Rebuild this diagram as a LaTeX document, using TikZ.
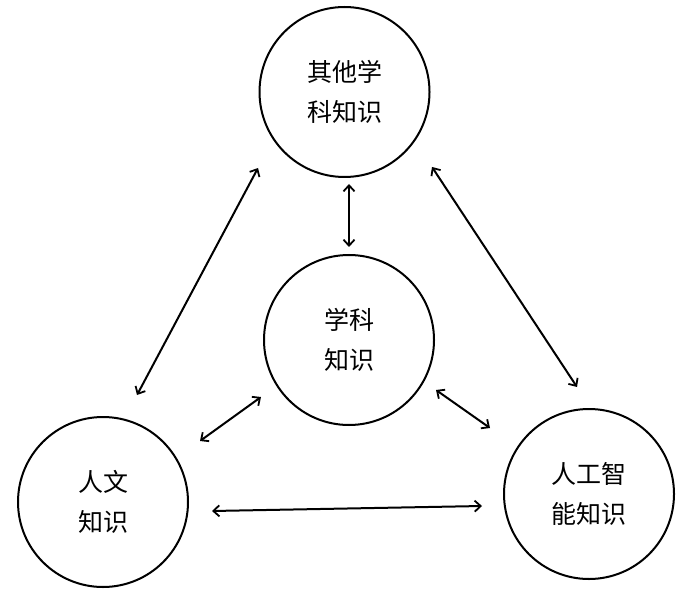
\documentclass[tikz,border=0pt]{standalone}
\usepackage{fontspec}
\newfontfamily\cjk{Noto Sans CJK SC}
\usetikzlibrary{arrows.meta}
\begin{document}
\begin{tikzpicture}[x=1pt,y=-1pt,
  knode/.style={circle,draw,line width=2pt,minimum size=170pt,inner sep=0pt,
    align=center,font=\cjk\fontsize{25}{40}\selectfont},
  link/.style={line width=2pt,{Straight Barb[length=6pt,width=11pt,line width=1.8pt]}-{Straight Barb[length=6pt,width=11pt,line width=1.8pt]}}]
\useasboundingbox (0,0) rectangle (700,593);
\node[knode] (other) at (344.5,92) {其他学\\科知识};
\node[knode] (subj) at (349,340) {学科\\知识};
\node[knode] (hum) at (103,502) {人文\\知识};
\node[knode] (ai) at (589,494) {人工智\\能知识};
\coordinate (a1) at (258,168);
\coordinate (a2) at (137,395);
\coordinate (b1) at (432,167);
\coordinate (b2) at (577,387);
\coordinate (c1) at (349,184);
\coordinate (c2) at (349,247);
\coordinate (d1) at (261,397);
\coordinate (d2) at (200,441);
\coordinate (e1) at (436,390);
\coordinate (e2) at (490,428);
\coordinate (f1) at (212,511);
\coordinate (f2) at (482,506);
\draw[link] (a1) -- (a2);
\draw[link] (b1) -- (b2);
\draw[link] (c1) -- (c2);
\draw[link] (d1) -- (d2);
\draw[link] (e1) -- (e2);
\draw[link] (f1) -- (f2);
\end{tikzpicture}
\end{document}
